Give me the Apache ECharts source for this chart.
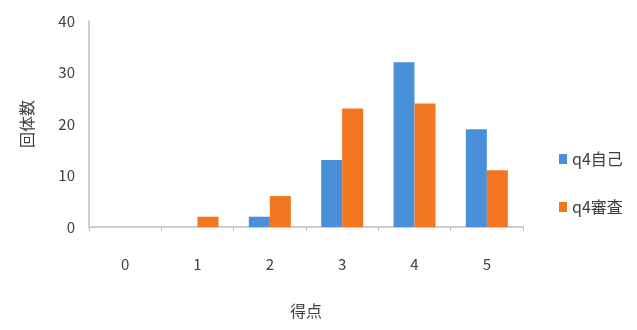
<!DOCTYPE html>
<html><head><meta charset="utf-8">
<script src="https://cdn.jsdelivr.net/npm/echarts@6/dist/echarts.min.js"></script>
<style>html,body{margin:0;padding:0;background:#fff}#c{width:637px;height:330px}</style>
</head><body><div id="c"></div>
<script>
const categories = ['0','1','2','3','4','5'];
const seriesNames = ['q4自己','q4審査'];
const selfValues = [0,0,2,13,32,19];
const reviewValues = [0,2,6,23,24,11];
const yTicks = [0,10,20,30,40];

const font = '"Noto Sans CJK JP", "Noto Sans", sans-serif';
const chart = echarts.init(document.getElementById('c'));
chart.setOption({
  animation:false,
  textStyle:{fontFamily:font},
  grid:{left:89,right:114,top:21,bottom:103},
  legend:{
    orient:'vertical', left:554, top:146, itemGap:32,
    itemWidth:8, itemHeight:10, icon:'rect',
    textStyle:{fontSize:16,color:'#404040',fontFamily:font},
    data:seriesNames
  },
  xAxis:{
    type:'category', data:categories,
    name:'得点', nameLocation:'middle', nameGap:76,
    nameTextStyle:{fontSize:16,color:'#404040'},
    axisLine:{lineStyle:{color:'#bfbfbf',width:1.5}},
    axisTick:{show:true,alignWithLabel:false,length:4,lineStyle:{color:'#bfbfbf'}},
    axisLabel:{fontSize:15,color:'#404040',margin:30}
  },
  yAxis:{
    type:'value', min:yTicks[0], max:yTicks[yTicks.length-1], interval:10,
    name:'回体数', nameLocation:'middle', nameGap:54, nameRotate:90,
    nameTextStyle:{fontSize:16,color:'#404040'},
    axisLine:{show:true,lineStyle:{color:'#bfbfbf',width:1.5}},
    axisTick:{show:false},
    splitLine:{show:false},
    axisLabel:{fontSize:15,color:'#404040',margin:14}
  },
  series:[
    {name:seriesNames[0],type:'bar',data:selfValues,barWidth:21,barGap:'0%',
     itemStyle:{color:'#4a8fd9'}},
    {name:seriesNames[1],type:'bar',data:reviewValues,barWidth:21,barGap:'0%',
     itemStyle:{color:'#f27520'}}
  ]
});
</script></body></html>
